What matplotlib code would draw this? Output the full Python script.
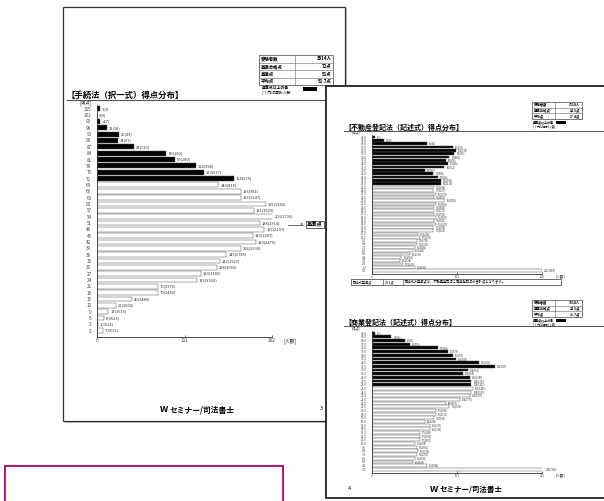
import numpy as np
import matplotlib
matplotlib.use("Agg")
import matplotlib.pyplot as plt
from matplotlib.patches import Rectangle

plt.rcParams['font.family'] = ['Noto Sans CJK JP', 'DejaVu Sans']

W, H = 604, 501

# ---------------- data: left page (手続法 択一式) ----------------
left_scores = ["105", "102", "99", "96", "93", "90", "87", "84", "81", "78", "75", "72",
               "69", "66", "63", "60", "57", "54", "51", "48", "45", "42", "39", "36",
               "33", "30", "27", "24", "21", "18", "15", "12", "9", "6", "3", "0"]
left_counts = [3, 0, 4, 11, 25, 24, 43, 80, 90, 114, 123, 158,
               140, 166, 166, 195, 181, 203, 188, 193, 180, 183, 166, 149,
               142, 138, 120, 115, 70, 70, 40, 22, 13, 8, 1, 7]
left_pass = 12          # rows at or above 基準合格点 drawn black
left_ticks = [0, 101, 202]

# ---------------- data: right page upper (不動産登記法 記述式) ----------------
up_scores = ["40.0", "39.0", "38.0", "37.0", "36.0", "35.0", "34.0", "33.0", "32.0", "31.0",
             "30.0", "29.0", "28.0", "27.0", "26.0", "25.0", "24.0", "23.0", "22.0", "21.0",
             "20.0", "19.0", "18.0", "17.0", "16.0", "15.0", "14.0", "13.0", "12.0", "11.0",
             "10.0", "9.0", "8.0", "7.0", "6.0", "5.0", "4.0", "3.0", "2.0", "1.0", "0.0"]
up_counts = [3, 14, 65, 96, 100, 98, 92, 88, 90, 86, 63, 73, 78, 82, 82,
             74, 73, 76, 74, 86, 76, 74, 74, 74, 76, 74, 76, 73, 73, 55,
             57, 53, 53, 51, 49, 45, 35, 33, 37, 51, 202]
up_pass = 15

# ---------------- data: right page lower (商業登記法 記述式) ----------------
lo_scores = ["40.0", "39.0", "38.0", "37.0", "36.0", "35.0", "34.0", "33.0", "32.0", "31.0",
             "30.0", "29.0", "28.0", "27.0", "26.0", "25.0", "24.0", "23.0", "22.0", "21.0",
             "20.0", "19.0", "18.0", "17.0", "16.0", "15.0", "14.0", "13.0", "12.0", "11.0",
             "10.0", "9.0", "8.0", "7.0", "6.0", "5.0", "4.0", "3.0"]
lo_counts = [3, 23, 39, 45, 78, 90, 96, 100, 127, 146, 114, 108, 116, 118, 118,
             120, 118, 116, 104, 88, 92, 76, 76, 74, 63, 69, 69, 57, 57, 57,
             51, 53, 55, 53, 51, 49, 65, 204]
lo_pass = 15
right_ticks = [0, 101, 202]

fig = plt.figure(figsize=(W / 100, H / 100), dpi=100)
cv = fig.add_axes([0, 0, 1, 1])
cv.set_xlim(0, W)
cv.set_ylim(H, 0)
cv.axis('off')


def ax_px(x0, y0, x1, y1, z=5):
    a = fig.add_axes([x0 / W, 1 - y1 / H, (x1 - x0) / W, (y1 - y0) / H])
    a.set_zorder(z)
    a.patch.set_alpha(0)
    return a


def table(x0, y0, x1, xs, row_h, rows, fs, z=3):
    n = len(rows)
    y1 = y0 + n * row_h
    cv.add_patch(Rectangle((x0, y0), x1 - x0, y1 - y0, fill=False, lw=0.5, ec='#444', zorder=z))
    for i in range(1, n):
        cv.plot([x0, x1], [y0 + i * row_h] * 2, lw=0.4, color='#666', zorder=z)
    cv.plot([xs, xs], [y0, y1], lw=0.4, color='#666', zorder=z)
    for i, (a, b) in enumerate(rows):
        yc = y0 + (i + 0.5) * row_h
        cv.text(x0 + 1.5, yc, a, fontsize=fs, va='center', ha='left', weight='bold', zorder=z)
        cv.text(x1 - 1.5, yc, b, fontsize=fs, va='center', ha='right', weight='bold', zorder=z)


def chart(ax, labels, counts, npass, ticks, lab_fs, val_fs, barh=0.75):
    n = len(counts)
    y = np.arange(n)
    cols = ['black' if i < npass else 'white' for i in range(n)]
    ax.barh(y, counts, height=barh, color=cols, edgecolor='#555', linewidth=0.35)
    cum = np.cumsum(counts)
    for i in range(n):
        ax.text(counts[i] + ticks[-1] * 0.012, y[i], f"{counts[i]}({cum[i]})",
                fontsize=val_fs, va='center', ha='left', color='#333')
    ax.set_ylim(n - 0.5 + 0.5, -0.6)
    ax.set_xlim(0, ticks[-1])
    ax.set_yticks(y)
    ax.set_yticklabels(labels, fontsize=lab_fs, color='#444')
    ax.set_xticks(ticks)
    ax.set_xticklabels([str(t) for t in ticks], fontsize=lab_fs, color='#444')
    ax.tick_params(axis='y', length=0, pad=4)
    ax.tick_params(axis='x', length=1.5, width=0.4, pad=1, direction='in')
    for s in ['top', 'right']:
        ax.spines[s].set_visible(False)
    for s in ['left', 'bottom']:
        ax.spines[s].set_linewidth(0.6)
        ax.spines[s].set_color('#333')


# ---------------- left page ----------------
cv.add_patch(Rectangle((65, 9), 282, 414, fc='#bdbdbd', ec='none', zorder=0))
cv.add_patch(Rectangle((63, 7), 282, 414, fc='white', ec='#333', lw=0.9, zorder=1))

table(259, 55, 333, 295, 7.5, [("受験者数", "3514人"), ("基準合格点", "72点"),
                               ("基準点", "51点"), ("平均点", "51.7点")], 3.2)
cv.text(262, 89, "基準点以上の者", fontsize=2.8, va='center', weight='bold', zorder=3)
cv.add_patch(Rectangle((303, 87), 14, 3.5, fc='black', zorder=3))
cv.text(262, 93.5, "(  ) 内は累計人数", fontsize=2.8, va='center', zorder=3)

cv.text(67, 95, "【手続法（択一式）得点分布】", fontsize=6, weight='bold', va='center', zorder=3)
cv.plot([67, 326], [99.5, 99.5], lw=0.8, color='#555', zorder=3)
cv.text(80, 103.5, "[得点]", fontsize=3.3, va='center', color='#444', zorder=3)

axL = ax_px(97, 105, 272, 337)
chart(axL, left_scores, left_counts, left_pass, left_ticks, 3.3, 2.9)
cv.text(283, 341.5, "[人数]", fontsize=3.6, va='center', color='#333', zorder=3)

# 基準点 arrow (row "51")
yb = 105 + (232 / (len(left_counts) + 0.1)) * (left_scores.index("51") + 0.6)
cv.plot([288, 303], [yb, yb], lw=0.5, color='#333', zorder=3)
cv.text(301.5, yb, "<", fontsize=4, va='center', ha='center', zorder=3)
cv.text(315, yb, "基準点", fontsize=3.8, va='center', ha='center', weight='bold', zorder=3,
        bbox=dict(boxstyle='square,pad=0.15', fc='white', ec='#222', lw=0.5))

cv.text(160, 410, "W", fontsize=6.5, weight='bold', style='italic', va='center', zorder=3)
cv.text(170, 410, "セミナー/司法書士", fontsize=5.6, weight='bold', va='center', zorder=3)
cv.text(320, 409, "3", fontsize=4, va='center', zorder=3)

# ---------------- right page ----------------
cv.add_patch(Rectangle((326, 86), 290, 412, fc='white', ec='#222', lw=1.3, zorder=4))

# upper section
table(532, 102, 582, 555, 5.7, [("受験者数", "3514人"), ("基準合格点", "24.5点"),
                               ("平均点", "17.4点")], 2.4, z=5)
cv.text(533, 122, "基準点以上の者", fontsize=2.2, va='center', weight='bold', zorder=5)
cv.add_patch(Rectangle((556, 120.5), 10, 3, fc='black', zorder=5))
cv.text(533, 126.5, "(  ) 内は累計人数", fontsize=2.2, va='center', zorder=5)
cv.text(344, 127, "【不動産登記法（記述式）得点分布】", fontsize=5.0, weight='bold', va='center', zorder=5)
cv.plot([344, 604], [131, 131], lw=0.7, color='#555', zorder=5)
cv.text(352, 132.5, "[得点]", fontsize=2.4, va='center', color='#444', zorder=5)

axU = ax_px(372, 135, 542, 274, z=6)
chart(axU, up_scores, up_counts, up_pass, right_ticks, 2.2, 1.8, barh=0.78)
cv.text(556, 276.5, "[人数]", fontsize=2.6, va='center', color='#333', zorder=5)

# 記述式基準点 note
cv.add_patch(Rectangle((351, 279), 210, 6, fill=False, ec='#333', lw=0.5, zorder=5))
cv.plot([383, 383], [279, 285], lw=0.4, color='#333', zorder=5)
cv.plot([403, 403], [279, 285], lw=0.4, color='#333', zorder=5)
cv.text(352.5, 282, "記述式基準点", fontsize=2.3, va='center', zorder=5)
cv.text(385, 282, "24.5点", fontsize=2.3, va='center', zorder=5)
cv.text(405, 282, "記述式の基準点は、不動産登記法と商業登記法の合計点となります。",
        fontsize=2.3, va='center', zorder=5)

# lower section
table(532, 300, 582, 555, 5.7, [("受験者数", "3514人"), ("基準合格点", "24.5点"),
                               ("平均点", "21.7点")], 2.4, z=5)
cv.text(533, 320, "基準点以上の者", fontsize=2.2, va='center', weight='bold', zorder=5)
cv.add_patch(Rectangle((556, 318.5), 10, 3, fc='black', zorder=5))
cv.text(533, 324.5, "(  ) 内は累計人数", fontsize=2.2, va='center', zorder=5)
cv.text(344, 322, "【商業登記法（記述式）得点分布】", fontsize=5.0, weight='bold', va='center', zorder=5)
cv.plot([344, 604], [326, 326], lw=0.7, color='#555', zorder=5)
cv.text(352, 328, "[得点]", fontsize=2.4, va='center', color='#444', zorder=5)

axB = ax_px(372, 331, 542, 473, z=6)
chart(axB, lo_scores, lo_counts, lo_pass, right_ticks, 2.2, 1.8, barh=0.78)
cv.text(556, 475.5, "[人数]", fontsize=2.6, va='center', color='#333', zorder=5)

cv.text(348, 488, "4", fontsize=4, va='center', zorder=5)
cv.text(430, 489, "W", fontsize=6.5, weight='bold', style='italic', va='center', zorder=5)
cv.text(440, 489, "セミナー/司法書士", fontsize=5.4, weight='bold', va='center', zorder=5)

# magenta caption frame
cv.add_patch(Rectangle((5, 466), 278, 36, fill=False, ec='#c0127a', lw=1.4, zorder=5))

fig.savefig("out.png", dpi=100)
